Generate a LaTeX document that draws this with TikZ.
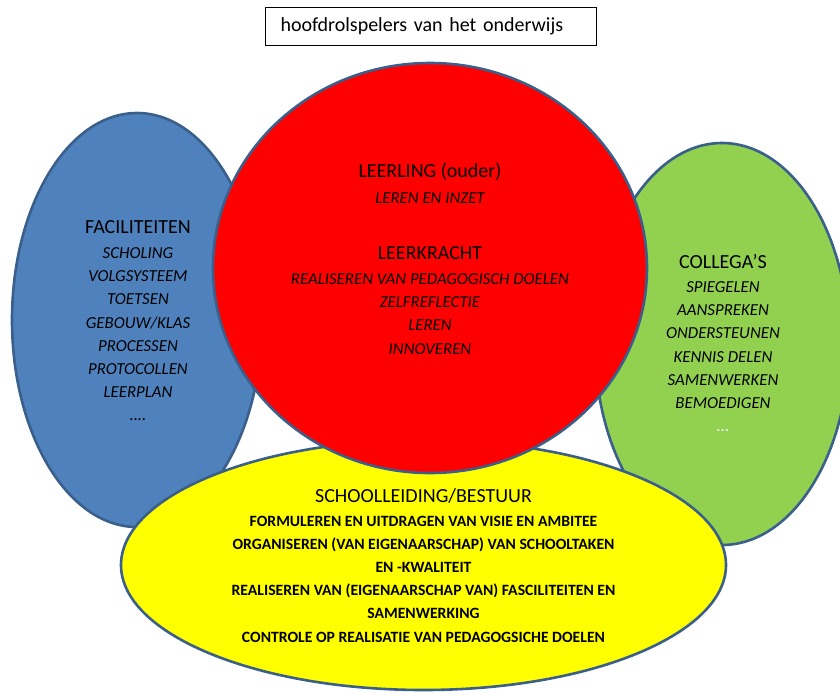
\documentclass[tikz,border=0pt]{standalone}
\usepackage{fontspec}
\setmainfont{Carlito}
\definecolor{rim}{HTML}{3A5F8B}
\definecolor{facblue}{HTML}{4F81BD}
\definecolor{colgreen}{HTML}{92D050}
\definecolor{leerred}{HTML}{FF0000}
\definecolor{besyellow}{HTML}{FFFF00}

\begin{document}
\begin{tikzpicture}
[x=1pt, y=-1pt, shape line/.style={draw=rim, line width=2.6pt}, head text/.style={anchor=base, inner sep=0pt, font=\fontsize{20}{24}\selectfont}, list text/.style={anchor=base, inner sep=0pt, align=center, font=\fontsize{16.8}{23.2}\selectfont\itshape}, bold list/.style={anchor=base, inner sep=0pt, align=center, font=\fontsize{15.7}{23.2}\selectfont\bfseries}, title box/.style={draw, line width=1pt, anchor=west, text width=301pt, align=left, inner xsep=15pt, inner ysep=0pt, minimum height=38pt, font=\fontsize{20}{24}\selectfont}]
    \useasboundingbox (0,0) rectangle (840,694);
    \coordinate (fac) at (137,320);
    \coordinate (col) at (722,344);
    \coordinate (bes) at (423.5,565);
    \coordinate (leer) at (430,268);
    % the four players
    \draw[shape line, fill=facblue] (fac) ellipse [x radius=125, y radius=207];
    \draw[shape line, fill=colgreen] (col) ellipse [x radius=127, y radius=201];
    \draw[shape line, fill=besyellow] (bes) ellipse [x radius=302.5, y radius=125];
    \draw[shape line, fill=leerred] (leer) ellipse [x radius=217, y radius=205];
    \node[title box] (titel) at (265,26) {hoofdrolspelers van het onderwijs};
    % facilities (lists sit on their last baseline)
    \node[head text] (fachead) at (138,233) {FACILITEITEN};
    \node[list text] (faclist) at (138,420.8) {SCHOLING\\VOLGSYSTEEM\\TOETSEN\\GEBOUW/KLAS\\PROCESSEN\\PROTOCOLLEN\\LEERPLAN\\....};
    % pupil and teacher
    \node[head text] (llnhead) at (430,177) {LEERLING (ouder)};
    \node[list text] (llnlist) at (430,203.5) {LEREN EN INZET};
    \node[head text] (lkhead) at (430,259.5) {LEERKRACHT};
    \node[list text] (lklist) at (430,354.1) {REALISEREN VAN PEDAGOGISCH DOELEN\\ZELFREFLECTIE\\LEREN\\INNOVEREN};
    % colleagues
    \node[head text] (colhead) at (723,268.5) {COLLEGA’S};
    \node[list text] (collist) at (723,431.6) {SPIEGELEN\\AANSPREKEN\\ONDERSTEUNEN\\KENNIS DELEN\\SAMENWERKEN\\BEMOEDIGEN\\\textcolor{white}{...}};
    % management
    \node[head text] (beshead) at (423.5,502.5) {SCHOOLLEIDING/BESTUUR};
    \node[bold list] (beslist) at (423.5,642) {FORMULEREN EN UITDRAGEN VAN VISIE EN AMBITEE\\ORGANISEREN (VAN EIGENAARSCHAP) VAN SCHOOLTAKEN\\EN -KWALITEIT\\REALISEREN VAN (EIGENAARSCHAP VAN) FASCILITEITEN EN\\SAMENWERKING\\CONTROLE OP REALISATIE VAN PEDAGOGSICHE DOELEN};
\end{tikzpicture}
\end{document}
